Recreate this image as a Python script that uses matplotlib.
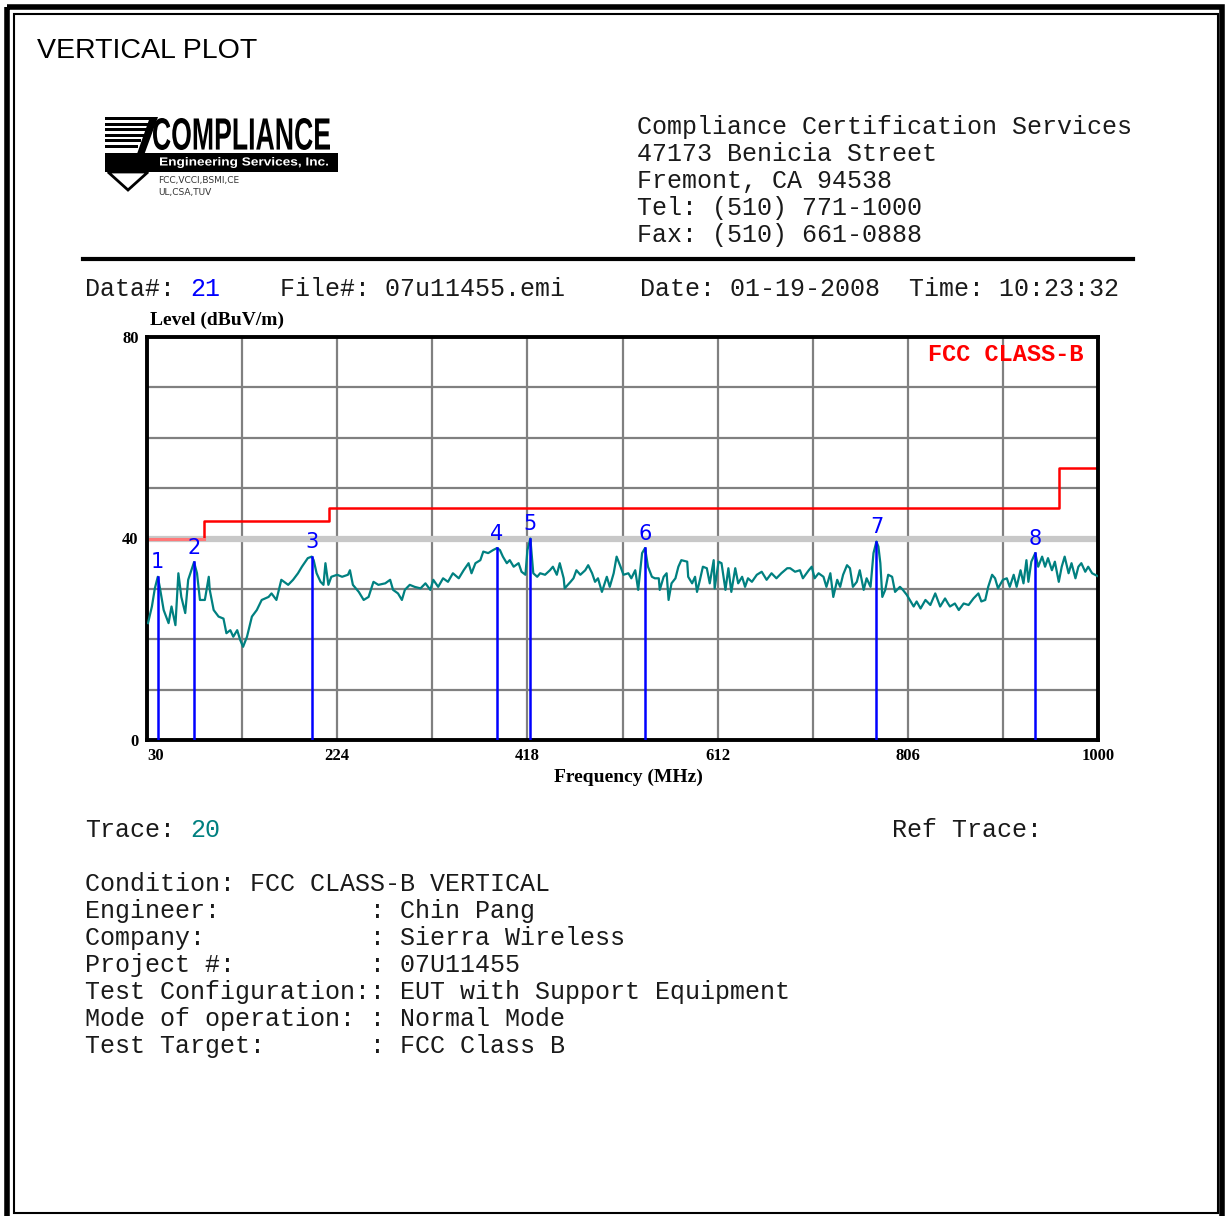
import numpy as np
import matplotlib
matplotlib.use('Agg')
import matplotlib.pyplot as plt
from matplotlib.textpath import TextPath
from matplotlib.patches import PathPatch, Rectangle, Polygon
from matplotlib.font_manager import FontProperties
from matplotlib.transforms import Affine2D

# %% data
freq = [31, 35, 38, 41, 43, 47, 52, 55, 59, 62, 65, 69, 72, 78, 81, 84, 89, 93, 94, 98,
        103, 108, 111, 115, 118, 122, 125, 128, 132, 137, 142, 147, 154, 157, 162, 167, 174, 179, 184, 188,
        194, 198, 200, 203, 207, 210, 212, 215, 218, 224, 229, 235, 237, 240, 246, 251, 256, 261, 266, 273,
        278, 281, 286, 290, 293, 298, 303, 309, 314, 319, 322, 327, 332, 337, 342, 348, 353, 358, 361, 365,
        370, 373, 378, 383, 387, 390, 393, 397, 400, 404, 409, 412, 416, 418, 421, 424, 428, 431, 436, 441,
        444, 448, 451, 455, 456, 462, 465, 468, 472, 477, 480, 484, 487, 490, 494, 499, 502, 506, 509, 513,
        516, 521, 524, 528, 531, 535, 538, 541, 545, 548, 552, 553, 557, 560, 562, 565, 569, 572, 575, 581,
        582, 586, 589, 591, 594, 597, 601, 604, 608, 609, 613, 616, 620, 623, 626, 630, 633, 637, 640, 643,
        647, 652, 657, 662, 667, 672, 677, 683, 686, 691, 696, 699, 705, 708, 711, 715, 720, 723, 727, 730,
        734, 737, 740, 744, 747, 750, 754, 757, 761, 764, 768, 771, 774, 776, 778, 780, 783, 786, 790, 793,
        798, 801, 805, 808, 812, 815, 819, 824, 829, 834, 839, 844, 847, 849, 854, 858, 863, 868, 873, 878,
        881, 885, 888, 892, 895, 898, 903, 907, 910, 914, 917, 921, 924, 927, 929, 932, 936, 939, 943, 946,
        949, 953, 956, 960, 963, 966, 970, 973, 977, 980, 983, 987, 990, 994, 997, 1000]
level = [23.2, 26.5, 30.1, 32.4, 30.4, 25.8, 23.2, 26.5, 22.8, 33.1, 28.4, 25.2, 31.8, 35.3, 33.1, 27.8, 27.8, 32.4, 29.8, 25.8,
         24.5, 24.1, 21.2, 21.8, 20.5, 21.8, 19.9, 18.5, 20.5, 24.5, 25.8, 27.8, 28.4, 29.1, 27.8, 31.8, 30.8, 31.8, 33.1, 34.4,
         36.1, 36.4, 35.7, 33.1, 31.4, 30.8, 35.1, 30.8, 32.4, 32.8, 32.4, 32.8, 33.7, 30.8, 29.4, 27.8, 28.4, 31.4, 30.8, 31.1,
         31.8, 29.8, 29.1, 27.8, 29.8, 30.8, 30.4, 30.1, 31.1, 29.8, 31.8, 30.4, 32.1, 31.4, 33.1, 32.1, 33.7, 35.1, 33.1, 35.1,
         35.7, 37.4, 37.1, 37.7, 38.1, 37.7, 36.4, 35.1, 35.7, 34.4, 35.1, 33.4, 32.8, 37.7, 40.0, 33.1, 32.4, 33.1, 32.8, 33.7,
         34.4, 32.8, 35.1, 32.1, 30.1, 31.4, 32.1, 33.7, 32.8, 33.7, 34.7, 33.1, 31.4, 32.1, 29.4, 32.4, 30.4, 33.1, 36.4, 34.4,
         32.8, 33.1, 32.1, 33.7, 29.8, 37.1, 38.1, 34.4, 32.4, 32.1, 32.1, 29.8, 32.4, 33.1, 27.8, 31.1, 32.1, 34.4, 35.7, 35.4,
         32.4, 31.1, 32.4, 29.4, 31.8, 34.4, 34.1, 31.1, 35.7, 30.1, 35.4, 35.1, 29.8, 34.1, 29.4, 34.1, 31.1, 32.4, 30.4, 32.1,
         31.4, 32.8, 33.4, 31.8, 33.1, 32.1, 33.1, 34.1, 34.1, 33.4, 33.7, 32.1, 33.7, 34.4, 32.1, 33.1, 32.4, 30.4, 33.1, 28.4,
         31.8, 30.4, 32.8, 34.7, 34.1, 30.4, 31.4, 33.7, 29.8, 32.1, 30.4, 37.1, 39.4, 38.4, 35.1, 28.4, 29.8, 32.8, 32.4, 29.4,
         30.4, 29.8, 28.8, 27.8, 26.5, 27.5, 26.1, 27.8, 26.8, 29.1, 26.5, 28.1, 27.1, 26.5, 27.1, 25.8, 27.1, 26.8, 28.1, 29.1,
         27.5, 27.8, 30.4, 32.8, 32.1, 30.1, 31.8, 32.1, 30.4, 32.8, 30.4, 33.7, 31.1, 35.7, 31.4, 35.4, 37.1, 34.4, 36.4, 34.4,
         36.1, 33.7, 35.4, 31.4, 34.4, 36.4, 33.1, 35.1, 32.1, 34.4, 35.1, 33.4, 34.4, 33.1, 32.8, 32.5]

mark_freq = [41, 78, 198, 387, 421, 538, 774, 936]
mark_level = [32.4, 35.3, 36.4, 38.1, 40.0, 38.1, 39.4, 37.1]
mark_names = ['1', '2', '3', '4', '5', '6', '7', '8']

limit_freq = [30, 88, 88, 216, 216, 960, 960, 1000]
limit_level = [40, 40, 43.5, 43.5, 46, 46, 54, 54]

xtick_vals = [30, 224, 418, 612, 806, 1000]
ytick_vals = [0, 40, 80]

header = ['Compliance Certification Services', '47173 Benicia Street', 'Fremont, CA 94538',
          'Tel: (510) 771-1000', 'Fax: (510) 661-0888']
cond_labels = ['Engineer:', 'Company:', 'Project #:', 'Test Configuration:', 'Mode of operation:', 'Test Target:']
cond_values = ['Chin Pang', 'Sierra Wireless', '07U11455', 'EUT with Support Equipment', 'Normal Mode', 'FCC Class B']

W, H = 1225, 1216
mono = 'Liberation Mono'
ink = '#1a1a1a'

# %%
fig = plt.figure(figsize=(W / 100, H / 100), dpi=100)
page = fig.add_axes([0, 0, 1, 1])
page.set_xlim(0, W)
page.set_ylim(H, 0)
page.axis('off')

# page borders
page.add_patch(Rectangle((7, 7), 1215, 1215, fill=False, lw=4, ec='black'))
page.add_patch(Rectangle((14, 14), 1204, 1199, fill=False, lw=1.5, ec='black'))

page.text(37, 51, 'VERTICAL PLOT', family='Liberation Sans', fontsize=20.5, va='center', ha='left')


def boxtext(s, x0, ybot, w, h, color='black', weight='bold', family='Liberation Sans'):
    tp = TextPath((0, 0), s, size=1, prop=FontProperties(family=family, weight=weight))
    bb = tp.get_extents()
    tr = Affine2D().translate(-bb.x0, -bb.y0).scale(w / bb.width, -h / bb.height).translate(x0, ybot)
    page.add_patch(PathPatch(tr.transform_path(tp), lw=0, fc=color))


# logo
for k in range(6):
    page.add_patch(Rectangle((105, 117 + k * 5.6), 48 - k * 3, 3, color='black', lw=0))
page.add_patch(Polygon([(150, 117), (158, 117), (132, 188), (125, 188)], closed=True, color='black', lw=0))
boxtext('COMPLIANCE', 153, 150, 177, 32)
page.add_patch(Rectangle((105, 153), 233, 19, color='black', lw=0))
boxtext('Engineering Services, Inc.', 160, 168, 168, 11, color='white')
page.add_patch(Polygon([(108, 172), (128, 190), (148, 172)], closed=True, fc='white', ec='black', lw=2))
page.text(158, 180, 'FCC,VCCI,BSMI,CE', family='DejaVu Sans', fontsize=6.5, va='center', color='#333333')
page.text(158, 192, 'UL,CSA,TUV', family='DejaVu Sans', fontsize=6.5, va='center', color='#333333')

for i, s in enumerate(header):
    page.text(637, 134 + i * 27, s, family=mono, fontsize=18, va='baseline', color=ink)
page.plot([83, 1133], [259, 259], color='black', lw=3)

page.text(85, 296, 'Data#:', family=mono, fontsize=18, va='baseline', color=ink)
page.text(190, 296, '21', family=mono, fontsize=18, va='baseline', color='#0000ff')
page.text(280, 296, 'File#: 07u11455.emi', family=mono, fontsize=18, va='baseline', color=ink)
page.text(640, 296, 'Date: 01-19-2008', family=mono, fontsize=18, va='baseline', color=ink)
page.text(909, 296, 'Time: 10:23:32', family=mono, fontsize=18, va='baseline', color=ink)

page.text(85, 837, 'Trace:', family=mono, fontsize=18, va='baseline', color=ink)
page.text(190, 837, '20', family=mono, fontsize=18, va='baseline', color='#008080')
page.text(892, 837, 'Ref Trace:', family=mono, fontsize=18, va='baseline', color=ink)
page.text(85, 891, 'Condition: FCC CLASS-B VERTICAL', family=mono, fontsize=18, va='baseline', color=ink)
for i, (lab, val) in enumerate(zip(cond_labels, cond_values)):
    page.text(85, 918 + i * 27, f'{lab:<19}: {val}', family=mono, fontsize=18, va='baseline', color=ink)

# %% chart
ax = fig.add_axes([147 / W, 1 - 740 / H, 951 / W, 403 / H])
ax.set_xlim(30, 1000)
ax.set_ylim(0, 80)

for g in np.arange(30 + 97, 1000, 97):
    ax.axvline(g, color='#808080', lw=1.6, zorder=1)
for g in range(10, 80, 10):
    if g == 40:
        ax.axhline(g, color='#c8c8c8', lw=4.5, zorder=1)
    else:
        ax.axhline(g, color='#808080', lw=1.6, zorder=1)

ax.plot(limit_freq, limit_level, color='#ff0000', lw=1.8, zorder=2)
ax.plot(limit_freq[:2], limit_level[:2], color='#ff7878', lw=2.2, zorder=2)

ax.plot(freq, level, color='#008080', lw=1.6, zorder=3)

for f, l, n in zip(mark_freq, mark_level, mark_names):
    ax.plot([f, f], [0, l], color='#0000ff', lw=1.8, zorder=4)
    ax.text(f, l + 0.9, n, color='#0000ff', fontsize=15, family='DejaVu Sans',
            ha='center', va='bottom', zorder=5)

ax.text(0.985, 0.985, 'FCC CLASS-B', transform=ax.transAxes, color='#ff0000', fontsize=17,
        family=mono, fontweight='bold', ha='right', va='top')

ax.set_xticks(xtick_vals)
ax.set_yticks(ytick_vals)
ax.tick_params(length=0, pad=6)
for t in ax.get_xticklabels() + ax.get_yticklabels():
    t.set_family('Liberation Serif')
    t.set_fontweight('bold')
    t.set_fontsize(12)
ax.get_xticklabels()[0].set_ha('left')
for sp in ax.spines.values():
    sp.set_linewidth(2.8)

page.text(150, 320, 'Level (dBuV/m)', family='Liberation Serif', fontweight='bold', fontsize=14, va='center')
page.text(628, 777, 'Frequency (MHz)', family='Liberation Serif', fontweight='bold', fontsize=14,
          va='center', ha='center')

fig.savefig('out.png', dpi=100)
